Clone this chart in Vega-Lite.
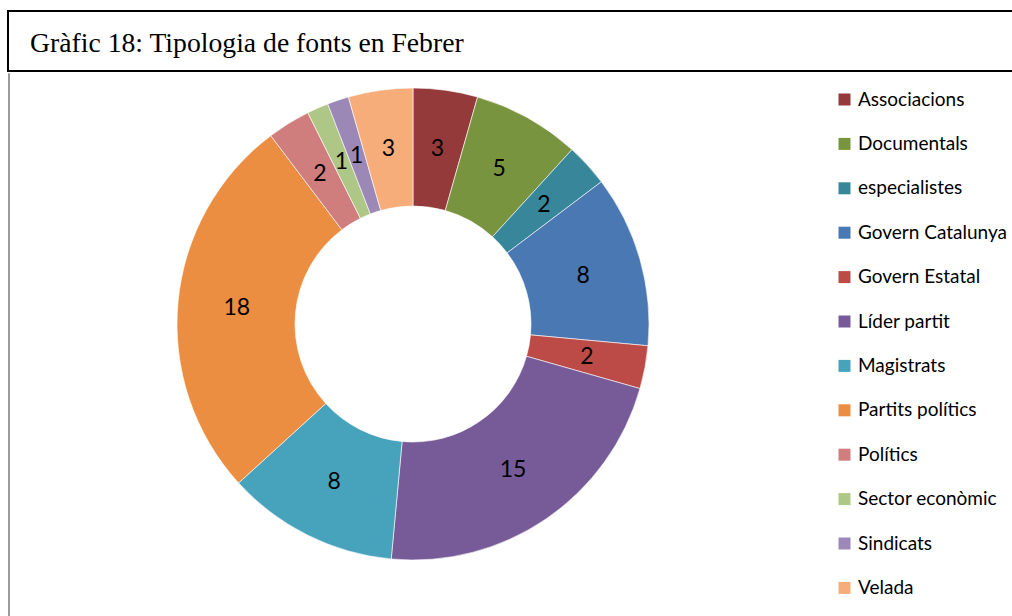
{
  "$schema": "https://vega.github.io/schema/vega-lite/v6.json",
  "padding": {"left": 7, "top": 10, "right": 0, "bottom": 0},
  "background": "white",
  "spacing": 0,
  "resolve": {"scale": {"color": "independent"}, "legend": {"color": "independent"}},
  "config": {
    "view": {"stroke": null},
    "concat": {"spacing": 0}
  },
  "vconcat": [
    {
      "width": 1010,
      "height": 60,
      "view": {"stroke": "black", "strokeWidth": 2},
      "data": {"values": [{"t": "Gràfic 18: Tipologia de fonts en Febrer"}]},
      "mark": {"type": "text", "align": "left", "baseline": "alphabetic", "font": "Liberation Serif", "fontSize": 27.7, "color": "black"},
      "encoding": {
        "text": {"field": "t", "type": "nominal"},
        "x": {"value": 22},
        "y": {"value": 41}
      }
    },
    {
      "spacing": 0,
      "resolve": {"scale": {"color": "independent"}, "legend": {"color": "independent"}},
      "hconcat": [
        {
          "width": 1,
          "height": 560,
          "view": {"stroke": "#9a9a9a", "strokeWidth": 1},
          "data": {"values": []},
          "mark": "text",
          "encoding": {}
        },
        {
          "width": 806,
          "height": 502,
          "data": {
            "values": [
              {"idx": 1, "font": "Associacions", "n": 3},
              {"idx": 2, "font": "Documentals", "n": 5},
              {"idx": 3, "font": "especialistes", "n": 2},
              {"idx": 4, "font": "Govern Catalunya", "n": 8},
              {"idx": 5, "font": "Govern Estatal", "n": 2},
              {"idx": 6, "font": "Líder partit", "n": 15},
              {"idx": 7, "font": "Magistrats", "n": 8},
              {"idx": 8, "font": "Partits polítics", "n": 18},
              {"idx": 9, "font": "Polítics", "n": 2},
              {"idx": 10, "font": "Sector econòmic", "n": 1},
              {"idx": 11, "font": "Sindicats", "n": 1},
              {"idx": 12, "font": "Velada", "n": 3}
            ]
          },
          "encoding": {
            "theta": {"field": "n", "type": "quantitative", "stack": true},
            "order": {"field": "idx", "type": "quantitative"}
          },
          "layer": [
            {
              "mark": {"type": "arc", "innerRadius": 118, "outerRadius": 236, "stroke": "white", "strokeWidth": 0.6},
              "encoding": {
                "color": {
                  "field": "font",
                  "type": "nominal",
                  "sort": null,
                  "scale": {
                    "domain": ["Associacions", "Documentals", "especialistes", "Govern Catalunya", "Govern Estatal", "Líder partit", "Magistrats", "Partits polítics", "Polítics", "Sector econòmic", "Sindicats", "Velada"],
                    "range": ["#953a3b", "#79943f", "#37869a", "#4a78b2", "#bc4b48", "#775b98", "#47a3bc", "#eb8e41", "#cf7e7d", "#afc786", "#9c88b6", "#f7ad7a"]
                  },
                  "legend": {
                    "title": null,
                    "orient": "right",
                    "offset": 2,
                    "padding": 17,
                    "symbolType": "square",
                    "symbolSize": 144,
                    "symbolStrokeWidth": 0,
                    "labelFont": "Lato",
                    "labelFontSize": 19,
                    "labelColor": "black",
                    "labelOffset": 4,
                    "rowPadding": 24.4,
                    "labelLimit": 300
                  }
                }
              }
            },
            {
              "mark": {"type": "text", "radius": 177, "font": "Lato", "fontSize": 23, "color": "black"},
              "encoding": {
                "text": {"field": "n", "type": "quantitative"}
              }
            }
          ]
        }
      ]
    }
  ]
}
